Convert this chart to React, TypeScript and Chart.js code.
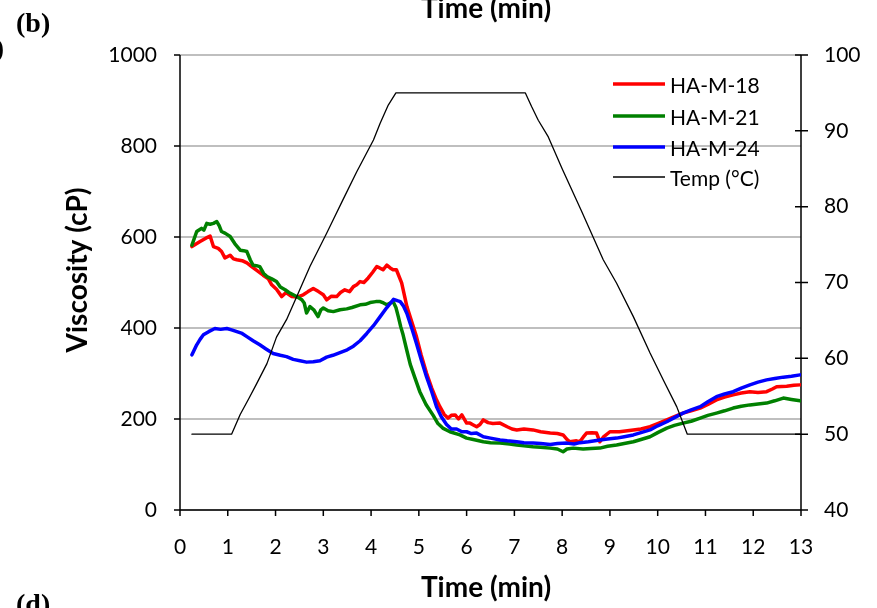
import { useEffect, useRef } from "react";
import { Chart, registerables } from "chart.js";

Chart.register(...registerables);

const WIDTH = 877;
const HEIGHT = 608;
const SANS = "Lato, 'Open Sans', sans-serif";
const SERIF = "'Liberation Serif', 'DejaVu Serif', serif";

// Axis ticks
const timeTicks = [0, 1, 2, 3, 4, 5, 6, 7, 8, 9, 10, 11, 12, 13];
const viscosityTicks = [0, 200, 400, 600, 800, 1000];
const tempTicks = [40, 50, 60, 70, 80, 90, 100];

// HA-M-18 viscosity (cP) vs time (min)
const timeHAM18 = [
  0.25, 0.42, 0.55, 0.63, 0.7, 0.8, 0.87, 0.94, 1.05, 1.12, 1.19, 1.3, 1.4, 1.5, 1.6, 1.74, 1.85, 1.92,
  2.02, 2.13, 2.22, 2.34, 2.45, 2.58, 2.68, 2.79, 2.9, 3.0, 3.07, 3.17, 3.28, 3.36, 3.45, 3.55, 3.63,
  3.7, 3.77, 3.85, 3.94, 4.03, 4.12, 4.18, 4.25, 4.33, 4.4, 4.46, 4.53, 4.64, 4.75, 4.85, 4.95, 5.05,
  5.16, 5.27, 5.37, 5.44, 5.53, 5.61, 5.68, 5.76, 5.83, 5.9, 6.0, 6.07, 6.14, 6.21, 6.28, 6.35, 6.45,
  6.55, 6.7, 6.85, 6.95, 7.05, 7.2, 7.39, 7.55, 7.75, 7.9, 8.02, 8.1, 8.16, 8.3, 8.37, 8.44, 8.51, 8.62,
  8.72, 8.79, 8.86, 9.0, 9.2, 9.49, 9.65, 9.84, 10.0, 10.19, 10.35, 10.53, 10.7, 10.89, 11.05, 11.23,
  11.4, 11.58, 11.75, 11.93, 12.1, 12.28, 12.4, 12.49, 12.7, 12.85, 12.98,
];
const viscHAM18 = [
  579, 590, 598, 602, 579, 575, 568, 554, 560, 552, 550, 548, 543, 535, 527, 516, 508, 495,
  485, 469, 478, 469, 468, 473, 480, 487, 480, 473, 462, 470, 469, 478, 484, 480, 491,
  495, 502, 500, 510, 522, 535, 532, 528, 538, 532, 528, 528, 499, 447, 414, 381, 340,
  301, 268, 242, 227, 210, 202, 208, 209, 200, 209, 191, 191, 187, 183, 188, 198, 192,
  190, 191, 183, 178, 176, 178, 176, 172, 169, 168, 165, 155, 150, 152, 150, 160, 169, 170,
  169, 150, 160, 172, 172, 176, 178, 183, 190, 198, 205, 213, 218, 224, 232, 242,
  248, 253, 257, 260, 258, 260, 266, 271, 272, 274, 275,
];

// HA-M-21 viscosity (cP) vs time (min)
const timeHAM21 = [
  0.25, 0.35, 0.45, 0.5, 0.56, 0.63, 0.7, 0.77, 0.82, 0.87, 0.95, 1.05, 1.15, 1.26, 1.33, 1.4, 1.47,
  1.53, 1.6, 1.67, 1.75, 1.82, 1.92, 2.02, 2.1, 2.2, 2.28, 2.37, 2.46, 2.55, 2.6, 2.65, 2.72, 2.8, 2.89,
  2.95, 3.0, 3.1, 3.21, 3.35, 3.49, 3.6, 3.77, 3.88, 3.98, 4.1, 4.19, 4.26, 4.33, 4.4, 4.46, 4.52, 4.57,
  4.62, 4.67, 4.75, 4.82, 4.92, 5.02, 5.15, 5.3, 5.4, 5.5, 5.65, 5.86, 6.0, 6.14, 6.35, 6.5, 6.7, 6.9,
  7.05, 7.2, 7.39, 7.55, 7.75, 7.9, 8.02, 8.1, 8.23, 8.44, 8.6, 8.79, 8.95, 9.14, 9.3, 9.49, 9.65, 9.84,
  10.0, 10.19, 10.35, 10.53, 10.7, 10.89, 11.05, 11.23, 11.4, 11.58, 11.75, 11.93, 12.1, 12.28, 12.45,
  12.63, 12.8, 12.98,
];
const viscHAM21 = [
  582, 612, 619, 615, 630, 628, 630, 634, 625, 612, 608, 601, 585, 571, 570, 568, 550,
  538, 537, 535, 520, 513, 508, 502, 490, 484, 478, 473, 468, 462, 455, 433, 447, 440, 425,
  440, 444, 438, 436, 440, 442, 445, 451, 452, 456, 458, 458, 455, 451, 455, 458, 445, 425,
  403, 385, 350, 320, 290, 260, 232, 208, 190, 180, 172, 165, 158, 155, 150, 148, 147, 145,
  143, 141, 139, 138, 136, 134, 128, 134, 136, 134, 135, 136, 140, 143, 146, 150, 155, 161,
  170, 180, 186, 191, 195, 202, 208, 213, 218, 224, 228, 231, 233, 235, 240,
  246, 243, 240,
];

// HA-M-24 viscosity (cP) vs time (min)
const timeHAM24 = [
  0.25, 0.35, 0.42, 0.49, 0.6, 0.73, 0.85, 0.98, 1.08, 1.19, 1.3, 1.4, 1.53, 1.67, 1.8, 1.95, 2.1,
  2.23, 2.37, 2.51, 2.65, 2.79, 2.93, 3.07, 3.2, 3.35, 3.5, 3.63, 3.77, 3.91, 4.05, 4.19, 4.33, 4.47,
  4.55, 4.61, 4.68, 4.75, 4.85, 4.95, 5.05, 5.16, 5.27, 5.37, 5.47, 5.58, 5.68, 5.79, 5.9, 6.0, 6.1,
  6.21, 6.35, 6.5, 6.7, 6.85, 7.05, 7.2, 7.39, 7.55, 7.75, 7.9, 8.1, 8.25, 8.37, 8.55, 8.79, 8.95, 9.14,
  9.3, 9.49, 9.65, 9.84, 10.0, 10.19, 10.35, 10.53, 10.7, 10.89, 11.05, 11.23, 11.4, 11.58, 11.75,
  11.93, 12.1, 12.28, 12.45, 12.63, 12.8, 12.98,
];
const viscHAM24 = [
  341, 363, 375, 385, 392, 399, 397, 399, 396, 392, 388, 381, 372, 363, 354, 344, 340,
  337, 331, 328, 325, 326, 328, 336, 340, 346, 352, 360, 372, 388, 405, 425, 445, 463,
  460, 458, 448, 432, 400, 366, 330, 293, 260, 227, 205, 188, 178, 178, 172, 172, 168,
  169, 161, 158, 154, 152, 150, 148, 147, 146, 144, 146, 147, 145, 148, 150, 154, 156, 158,
  161, 165, 170, 176, 185, 194, 203, 213, 220, 227, 238, 249, 255, 260, 268,
  275, 281, 286, 289, 292, 294, 297,
];

// Temperature programme (°C) vs time (min)
const timeTemp = [
  0.25, 1.08, 1.26, 1.45, 1.6, 1.82, 2.02, 2.23, 2.44, 2.72, 3.07, 3.21, 3.41, 3.7, 4.05, 4.19, 4.36,
  4.52, 7.23, 7.36, 7.5, 7.71, 8.0, 8.4, 8.86, 9.14, 9.49, 9.84, 10.12, 10.4, 10.62, 12.98,
];
const tempValues = [
  50, 50, 52.6, 54.8, 56.6, 59.3, 62.8, 65.1, 68.1, 72.1, 76.5, 78.3, 80.9, 84.6, 88.8, 91.0, 93.4,
  95, 95, 93.2, 91.4, 89.2, 85, 79.5, 73, 69.9, 65.5, 60.7, 57.1, 53.6, 50, 50,
];

const toPoints = (xs: number[], ys: number[]) => xs.map((x, i) => ({ x, y: ys[i] }));

// Axis lines, tick marks, legend and surrounding labels
const framePlugin = {
  id: "frame",
  beforeDatasetsDraw(chart: any) {
    const { ctx, chartArea, scales } = chart;
    const { left, right, top, bottom } = chartArea;
    ctx.save();
    ctx.strokeStyle = "#000";
    ctx.lineWidth = 1.5;
    ctx.beginPath();
    ctx.moveTo(left, top);
    ctx.lineTo(left, bottom);
    ctx.moveTo(right, top);
    ctx.lineTo(right, bottom);
    ctx.moveTo(left - 6, bottom);
    ctx.lineTo(right + 7, bottom);
    for (const v of viscosityTicks) {
      const y = scales.y.getPixelForValue(v);
      ctx.moveTo(left - 6, y);
      ctx.lineTo(left, y);
    }
    for (const v of tempTicks) {
      const y = scales.y2.getPixelForValue(v);
      ctx.moveTo(right - 6, y);
      ctx.lineTo(right + 7, y);
    }
    for (const v of timeTicks) {
      const x = scales.x.getPixelForValue(v);
      ctx.moveTo(x, bottom);
      ctx.lineTo(x, bottom + 6);
    }
    ctx.stroke();
    ctx.restore();
  },
  afterDraw(chart: any) {
    const { ctx } = chart;
    ctx.save();
    ctx.fillStyle = "#000";

    // Legend
    const legendRows = [84, 116, 147, 177];
    chart.data.datasets.forEach((ds: any, i: number) => {
      const y = legendRows[i];
      ctx.strokeStyle = ds.borderColor;
      ctx.lineWidth = i < 3 ? 3.5 : 1.5;
      ctx.beginPath();
      ctx.moveTo(613, y);
      ctx.lineTo(665, y);
      ctx.stroke();
      ctx.font = `21px ${SANS}`;
      ctx.textAlign = "left";
      ctx.textBaseline = "alphabetic";
      ctx.fillText(ds.label, 670, y + 8.5);
    });

    // Axis titles
    ctx.font = `bold 28px ${SANS}`;
    ctx.textAlign = "center";
    ctx.textBaseline = "alphabetic";
    ctx.fillText("Time (min)", 486, 597);
    ctx.fillText("Time (min)", 486, 18);
    ctx.save();
    ctx.translate(87, 270);
    ctx.rotate(-Math.PI / 2);
    ctx.fillText("Viscosity (cP)", 0, 0);
    ctx.restore();

    // Panel letters
    ctx.font = `bold 28px ${SERIF}`;
    ctx.textAlign = "left";
    ctx.fillText("(b)", 16, 32);
    ctx.fillText("(d)", 16, 613);
    ctx.textAlign = "right";
    ctx.fillText("(a)", 4, 57);
    ctx.restore();
  },
};

export default function App() {
  const canvasRef = useRef<HTMLCanvasElement | null>(null);

  useEffect(() => {
    const canvas = canvasRef.current;
    if (!canvas) return;
    const tickFont = { family: SANS, size: 21 };
    const plain = (v: number | string) => String(v);
    const chart = new Chart(canvas, {
      type: "line",
      data: {
        datasets: [
          {
            label: "HA-M-18",
            data: toPoints(timeHAM18, viscHAM18),
            borderColor: "#ff0000",
            borderWidth: 3.5,
            yAxisID: "y",
            order: 3,
          },
          {
            label: "HA-M-21",
            data: toPoints(timeHAM21, viscHAM21),
            borderColor: "#008000",
            borderWidth: 3.5,
            yAxisID: "y",
            order: 2,
          },
          {
            label: "HA-M-24",
            data: toPoints(timeHAM24, viscHAM24),
            borderColor: "#0000ff",
            borderWidth: 3.5,
            yAxisID: "y",
            order: 1,
          },
          {
            label: "Temp (°C)",
            data: toPoints(timeTemp, tempValues),
            borderColor: "#000000",
            borderWidth: 1.3,
            yAxisID: "y2",
            order: 0,
          },
        ],
      },
      options: {
        responsive: false,
        animation: false,
        devicePixelRatio: 1,
        layout: { padding: { top: 55, left: 0, right: 0, bottom: 0 } },
        elements: {
          point: { radius: 0, hoverRadius: 0 },
          line: { tension: 0, fill: false, borderCapStyle: "round", borderJoinStyle: "round" },
        },
        plugins: { legend: { display: false }, tooltip: { enabled: false } },
        events: [],
        scales: {
          x: {
            type: "linear",
            position: "bottom",
            min: 0,
            max: 13,
            afterBuildTicks: (s: any) => {
              s.ticks = timeTicks.map((value) => ({ value }));
            },
            afterFit: (s: any) => {
              s.height = 98;
            },
            ticks: { font: tickFont, color: "#000", padding: 25, maxRotation: 0, autoSkip: false, callback: plain },
            grid: { display: false, drawTicks: false },
            border: { display: false },
          },
          y: {
            type: "linear",
            position: "left",
            min: 0,
            max: 1000,
            afterBuildTicks: (s: any) => {
              s.ticks = viscosityTicks.map((value) => ({ value }));
            },
            afterFit: (s: any) => {
              s.width = 180;
            },
            ticks: { font: tickFont, color: "#000", padding: 23, callback: plain },
            grid: { color: "#bfbfbf", lineWidth: 2, drawTicks: false },
            border: { display: false },
          },
          y2: {
            type: "linear",
            position: "right",
            min: 40,
            max: 100,
            afterBuildTicks: (s: any) => {
              s.ticks = tempTicks.map((value) => ({ value }));
            },
            afterFit: (s: any) => {
              s.width = 76;
            },
            ticks: { font: tickFont, color: "#000", padding: 23, callback: plain },
            grid: { display: false, drawTicks: false },
            border: { display: false },
          },
        },
      },
      plugins: [framePlugin],
    });
    return () => chart.destroy();
  }, []);

  return (
    <div
      style={{
        position: "fixed",
        left: 0,
        top: 0,
        width: WIDTH,
        height: HEIGHT,
        background: "#fff",
        overflow: "hidden",
      }}
    >
      <canvas ref={canvasRef} width={WIDTH} height={HEIGHT} style={{ display: "block", width: WIDTH, height: HEIGHT }} />
    </div>
  );
}
